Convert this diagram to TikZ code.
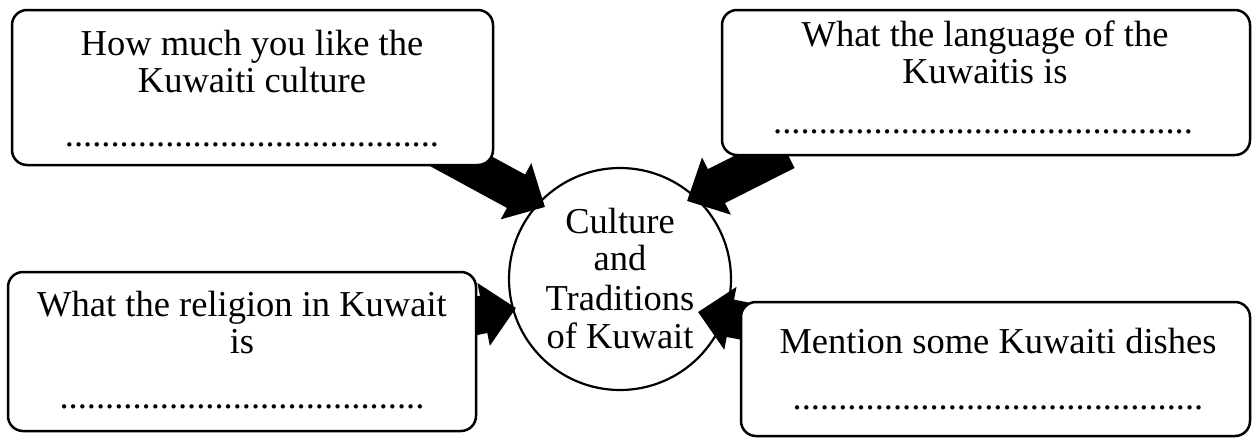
\documentclass[tikz,border=0pt]{standalone}
\usepackage{fontspec}
\setmainfont{Liberation Serif}
\usetikzlibrary{arrows.meta,backgrounds}
\tikzset{
  box/.style={draw, line width=2.5pt, rounded corners=15pt, fill=white, inner sep=0pt},
  txt/.style={inner sep=0pt, anchor=base, font=\fontsize{36.5}{37}\selectfont},
  hub/.style={draw, circle, line width=2.2pt, inner sep=0pt, minimum size=222pt},
  blockarrow/.style={line width=38pt, -{Triangle[length=33pt,width=62pt]}}
}
\begin{document}
\begin{tikzpicture}[x=1pt,y=-1pt]
\useasboundingbox (0,0) rectangle (1253,437);
% boxes
\node[box, minimum width=481pt, minimum height=155pt] (b1) at (252.5,87.5) {};
\node[box, minimum width=528pt, minimum height=145pt] (b2) at (986,82.5) {};
\node[box, minimum width=468pt, minimum height=159pt] (b3) at (242,351.5) {};
\node[box, minimum width=509pt, minimum height=134pt] (b4) at (995.5,369) {};
% hub
\node[hub] (c) at (620,279) {};
% texts
\node[txt] (t1a) at (252,55) {How much you like the};
\node[txt] (t1b) at (252,92) {Kuwaiti culture};
\node[txt] (t1c) at (252,146) {.........................................};
\node[txt] (t2a) at (985,46) {What the language of the};
\node[txt] (t2b) at (985,83) {Kuwaitis is};
\node[txt] (t2c) at (983,133) {..............................................};
\node[txt] (t3a) at (242,316) {What the religion in Kuwait};
\node[txt] (t3b) at (242,353) {is};
\node[txt] (t3c) at (242,408) {........................................};
\node[txt] (t4a) at (998,353) {Mention some Kuwaiti dishes};
\node[txt] (t4c) at (998,409) {.............................................};
\node[txt] (ct1) at (620,233) {Culture};
\node[txt] (ct2) at (620,270) {and};
\node[txt] (ct3) at (620,310) {Traditions};
\node[txt] (ct4) at (620,348) {of Kuwait};
% arrow ends
\coordinate (a1s) at (431,145);
\coordinate (a1e) at (545,207);
\coordinate (a2s) at (786,151);
\coordinate (a2e) at (687,201);
\coordinate (a3s) at (440,323);
\coordinate (a3e) at (516,308);
\coordinate (a4s) at (780,328);
\coordinate (a4e) at (698,312);
\begin{scope}[on background layer]
\draw[blockarrow] (a1s) -- (a1e);
\draw[blockarrow] (a2s) -- (a2e);
\draw[blockarrow] (a3s) -- (a3e);
\draw[blockarrow] (a4s) -- (a4e);
\end{scope}
\end{tikzpicture}
\end{document}
